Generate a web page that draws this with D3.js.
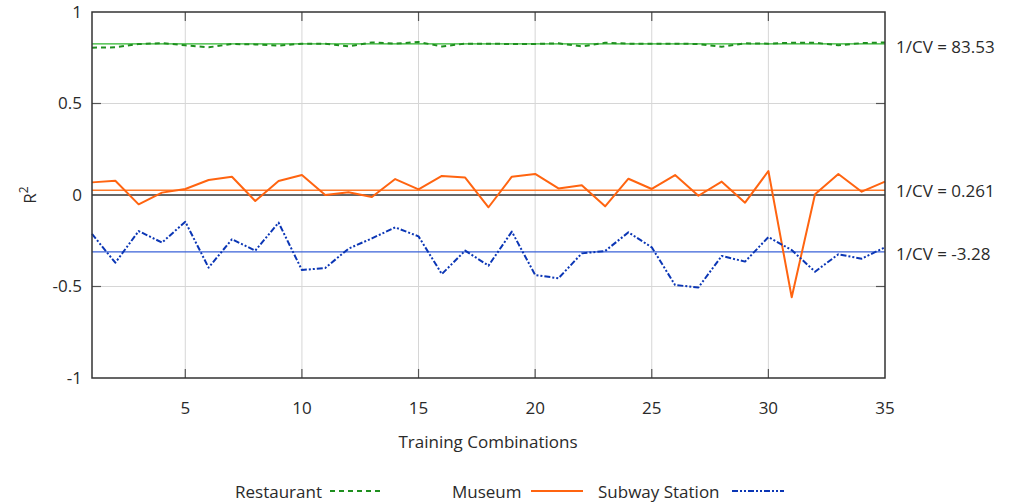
<!DOCTYPE html>
<html>
<head>
<meta charset="utf-8">
<script src="https://cdn.jsdelivr.net/npm/d3@7"></script>
<style>
  html, body { margin: 0; padding: 0; background: #fff; }
  svg text { font-family: "Open Sans", "Noto Sans", sans-serif; fill: #2a2a2a; }
</style>
</head>
<body>
<svg id="chart" width="1011" height="503"></svg>
<script>
// Training combination index (1..35)
const combos = d3.range(1, 36);

// R² per training combination
const restaurant = [0.805, 0.807, 0.825, 0.830, 0.818, 0.807, 0.825, 0.823, 0.816, 0.827,
                    0.827, 0.812, 0.834, 0.827, 0.836, 0.812, 0.827, 0.827, 0.825, 0.825,
                    0.829, 0.812, 0.832, 0.827, 0.827, 0.827, 0.825, 0.810, 0.829, 0.827,
                    0.832, 0.832, 0.818, 0.830, 0.834];
const museum = [0.069, 0.078, -0.051, 0.013, 0.033, 0.082, 0.100, -0.033, 0.076, 0.109,
                0.000, 0.015, -0.011, 0.087, 0.031, 0.104, 0.095, -0.067, 0.100, 0.115,
                0.036, 0.053, -0.062, 0.089, 0.033, 0.109, -0.004, 0.073, -0.042, 0.131,
                -0.559, 0.004, 0.115, 0.018, 0.073];
const subway = [-0.213, -0.370, -0.197, -0.260, -0.146, -0.397, -0.242, -0.304, -0.151, -0.410,
                -0.399, -0.293, -0.237, -0.177, -0.226, -0.432, -0.304, -0.386, -0.200, -0.437,
                -0.455, -0.319, -0.306, -0.204, -0.286, -0.492, -0.505, -0.333, -0.364, -0.230,
                -0.301, -0.419, -0.324, -0.348, -0.286];

// Mean R² and 1/CV annotation per location type
const seriesNames = ["Restaurant", "Museum", "Subway Station"];
const meanValues = [0.826, 0.026, -0.311];
const cvLabels = ["1/CV = 83.53", "1/CV = 0.261", "1/CV = -3.28"];

const xTicks = [5, 10, 15, 20, 25, 30, 35];
const yTicks = [-1, -0.5, 0, 0.5, 1];
const yTickLabels = ["-1", "-0.5", "0", "0.5", "1"];

const series = [
  { name: seriesNames[0], values: restaurant, mean: meanValues[0], cv: cvLabels[0],
    color: "#1f8f1f", meanColor: "#2cb52c", dash: "5,4" },
  { name: seriesNames[1], values: museum, mean: meanValues[1], cv: cvLabels[1],
    color: "#ff6410", meanColor: "#ff7a2a", dash: null },
  { name: seriesNames[2], values: subway, mean: meanValues[2], cv: cvLabels[2],
    color: "#0b36b5", meanColor: "#3a62d8", dash: "6,2,2,2,2,2" }
];

const svg = d3.select("#chart");
const plot = { left: 92, right: 885, top: 12, bottom: 378 };

const x = d3.scaleLinear().domain([1, 35]).range([plot.left, plot.right]);
const y = d3.scaleLinear().domain([-1, 1]).range([plot.bottom, plot.top]);

// Grid lines
const grid = svg.append("g");
grid.selectAll("line.vg").data(xTicks.filter(d => d < 35)).join("line")
  .attr("x1", d => x(d)).attr("x2", d => x(d))
  .attr("y1", plot.top).attr("y2", plot.bottom)
  .attr("stroke", "#d6d6d6").attr("stroke-width", 1);
grid.selectAll("line.hg").data([0.5, -0.5]).join("line")
  .attr("x1", plot.left).attr("x2", plot.right)
  .attr("y1", d => y(d)).attr("y2", d => y(d))
  .attr("stroke", "#d6d6d6").attr("stroke-width", 1);

// Zero line
svg.append("line")
  .attr("x1", plot.left).attr("x2", plot.right)
  .attr("y1", y(0)).attr("y2", y(0))
  .attr("stroke", "#333").attr("stroke-width", 1.5);

// Inner tick marks on all four sides
const tickLen = 9;
const ticks = svg.append("g").attr("stroke", "#555").attr("stroke-width", 1.2);
xTicks.filter(d => d < 35).forEach(d => {
  ticks.append("line").attr("x1", x(d)).attr("x2", x(d)).attr("y1", plot.top).attr("y2", plot.top + tickLen);
  ticks.append("line").attr("x1", x(d)).attr("x2", x(d)).attr("y1", plot.bottom).attr("y2", plot.bottom - tickLen);
});
[0.5, -0.5].forEach(d => {
  ticks.append("line").attr("x1", plot.left).attr("x2", plot.left + tickLen).attr("y1", y(d)).attr("y2", y(d));
  ticks.append("line").attr("x1", plot.right).attr("x2", plot.right - tickLen).attr("y1", y(d)).attr("y2", y(d));
});

// Mean lines
series.forEach(s => {
  svg.append("line")
    .attr("x1", plot.left).attr("x2", plot.right)
    .attr("y1", y(s.mean)).attr("y2", y(s.mean))
    .attr("stroke", s.meanColor).attr("stroke-width", 1.4);
});

// Data lines
const line = d3.line().x((d, i) => x(combos[i])).y(d => y(d));
series.forEach(s => {
  svg.append("path")
    .datum(s.values)
    .attr("d", line)
    .attr("fill", "none")
    .attr("stroke", s.color)
    .attr("stroke-width", 2)
    .attr("stroke-linejoin", "round")
    .attr("stroke-dasharray", s.dash);
});

// Plot frame
svg.append("rect")
  .attr("x", plot.left).attr("y", plot.top)
  .attr("width", plot.right - plot.left).attr("height", plot.bottom - plot.top)
  .attr("fill", "none").attr("stroke", "#333").attr("stroke-width", 1.5);

// Axis labels
const fs = 17;
svg.append("g").selectAll("text").data(yTicks).join("text")
  .attr("x", 82).attr("y", d => y(d))
  .attr("dy", "0.35em").attr("text-anchor", "end")
  .attr("font-size", fs)
  .text((d, i) => yTickLabels[i]);

svg.append("g").selectAll("text").data(xTicks).join("text")
  .attr("x", d => x(d)).attr("y", 408)
  .attr("dy", "0.35em").attr("text-anchor", "middle")
  .attr("font-size", fs)
  .text(d => d);

svg.append("text")
  .attr("x", 488).attr("y", 442).attr("dy", "0.35em")
  .attr("text-anchor", "middle").attr("font-size", fs)
  .text("Training Combinations");

const yl = svg.append("text")
  .attr("transform", `translate(30, ${y(0)}) rotate(-90)`)
  .attr("text-anchor", "middle").attr("dy", "0.35em")
  .attr("font-size", fs);
yl.append("tspan").text("R");
yl.append("tspan").attr("baseline-shift", "super").attr("font-size", 12).text("2");

// 1/CV annotations
const cvY = [47, 191, 254];
series.forEach((s, i) => {
  svg.append("text")
    .attr("x", 896).attr("y", cvY[i]).attr("dy", "0.35em")
    .attr("font-size", fs)
    .text(s.cv);
});

// Legend
const legendItems = [
  { s: series[0], tx: 235, lx: 330 },
  { s: series[1], tx: 452, lx: 531 },
  { s: series[2], tx: 598, lx: 732 }
];
legendItems.forEach(it => {
  svg.append("text")
    .attr("x", it.tx).attr("y", 492).attr("dy", "0.35em")
    .attr("font-size", fs).text(it.s.name);
  svg.append("line")
    .attr("x1", it.lx).attr("x2", it.lx + 52)
    .attr("y1", 491).attr("y2", 491)
    .attr("stroke", it.s.color).attr("stroke-width", 2)
    .attr("stroke-dasharray", it.s.dash);
});
</script>
</body>
</html>
